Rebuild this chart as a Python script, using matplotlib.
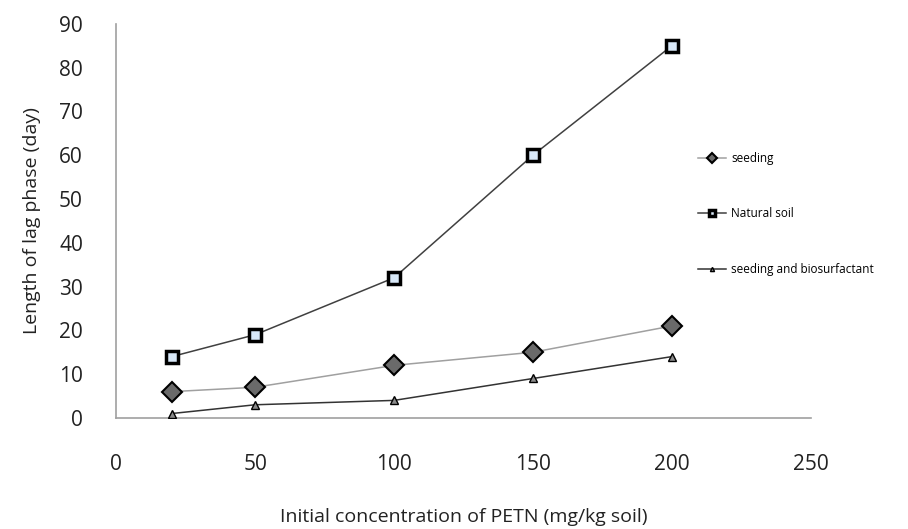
import matplotlib
matplotlib.use("Agg")
import matplotlib.pyplot as plt

conc = [20, 50, 100, 150, 200]
seeding = [6, 7, 12, 15, 21]
natural_soil = [14, 19, 32, 60, 85]
seeding_bio = [1, 3, 4, 9, 14]

x_ticks = [0, 50, 100, 150, 200, 250]
y_ticks = [0, 10, 20, 30, 40, 50, 60, 70, 80, 90]

plt.rcParams["font.family"] = ["Open Sans", "DejaVu Sans"]


def main():
    fig = plt.figure(figsize=(9.08, 5.29), dpi=100)
    ax = fig.add_axes([0.128, 0.21, 0.765, 0.745])

    ax.plot(conc, seeding, color="#a0a0a0", lw=1.1, marker="D", ms=10,
            mfc="#6a6a6a", mec="black", mew=1.5, label="seeding", zorder=3)
    ax.plot(conc, natural_soil, color="#404040", lw=1.1, marker="s", ms=8,
            mfc="#d8e8f8", mec="black", mew=2.5, label="Natural soil", zorder=3)
    ax.plot(conc, seeding_bio, color="#333333", lw=1.1, marker="^", ms=6,
            mfc="#8a8a8a", mec="black", mew=1.0,
            label="seeding and biosurfactant", zorder=3)

    ax.set_xlim(0, 250)
    ax.set_ylim(0, 90)
    ax.set_xticks(x_ticks)
    ax.set_yticks(y_ticks)
    ax.tick_params(length=0, labelsize=15, colors="#222222")
    ax.tick_params(axis="x", pad=26)
    ax.tick_params(axis="y", pad=24)

    for side in ["top", "right"]:
        ax.spines[side].set_visible(False)
    for side in ["left", "bottom"]:
        ax.spines[side].set_color("#a0a0a0")
        ax.spines[side].set_linewidth(1.2)

    ax.set_xlabel("Initial concentration of PETN (mg/kg soil)", fontsize=14,
                  color="#222222", labelpad=24)
    ax.set_ylabel("Length of lag phase (day)", fontsize=14, color="#222222",
                  labelpad=13)

    handles, labels = ax.get_legend_handles_labels()
    fig.legend(handles, labels, loc="upper left",
               bbox_to_anchor=(0.757, 0.733), frameon=False,
               fontsize=8.5, labelspacing=3.6, handlelength=2.4,
               handletextpad=0.4, markerscale=0.5)

    fig.savefig("out.png", dpi=100)
    plt.close(fig)


if __name__ == "__main__":
    main()
